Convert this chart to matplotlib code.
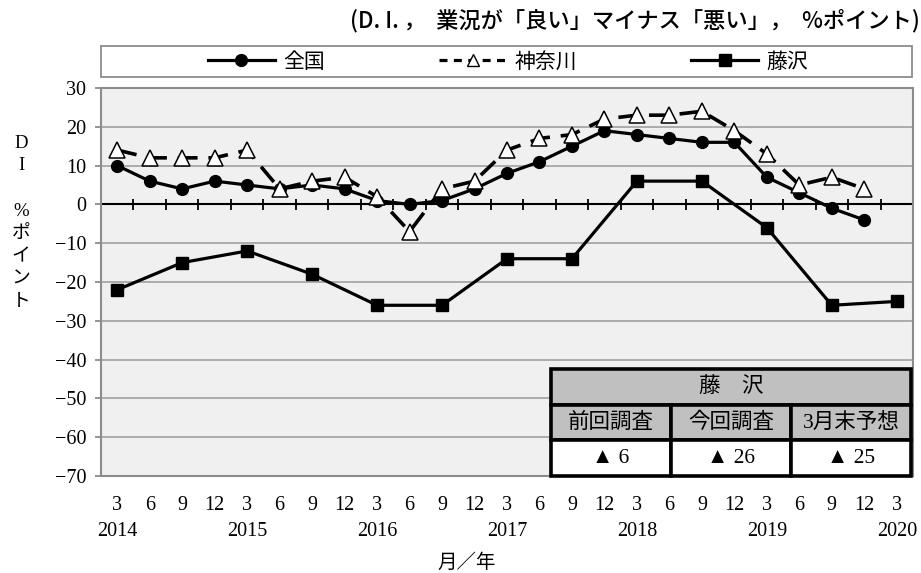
import matplotlib
matplotlib.use("Agg")
import matplotlib.pyplot as plt
import numpy as np
from matplotlib.lines import Line2D
from matplotlib.patches import Rectangle

# digits in a serif face, Japanese falls back to Noto CJK
SERIF_JP = ["Liberation Serif", "Noto Sans CJK JP"]
JP = ["Noto Sans CJK JP", "DejaVu Sans"]
plt.rcParams["font.family"] = SERIF_JP

months = [3, 6, 9, 12] * 6 + [3]
years = [2014, 2015, 2016, 2017, 2018, 2019, 2020]

# quarterly D.I., 2014/3 .. 2019/12
zenkoku = [10, 6, 4, 6, 5, 4, 5, 4, 1, 0, 1, 4, 8, 11, 15, 19, 18, 17, 16, 16, 7, 3, -1, -4]
kanagawa = [14, 12, 12, 12, 14, 4, 6, 7, 2, -7, 4, 6, 14, 17, 18, 22, 23, 23, 24, 19, 13, 5, 7, 4]
# half-yearly, 2014/3 .. 2020/3
fujisawa_pos = list(range(0, 25, 2))
fujisawa = [-22, -15, -12, -18, -26, -26, -14, -14, 6, 6, -6, -26, -25]

series_names = ["全国", "神奈川", "藤沢"]
table_header = "藤　沢"
table_cols = ["前回調査", "今回調査", "3月末予想"]
table_vals = [f"▲ {abs(v)}" for v in fujisawa[-3:]]

W, H = 921, 573
fig = plt.figure(figsize=(W / 100, H / 100), dpi=100)
ax = fig.add_axes([101 / W, 1 - 476 / H, 812 / W, 388 / H])

ax.set_facecolor("#f0f0f0")
ax.set_xlim(-0.5, len(months) - 0.5)
ax.set_ylim(-70, 30)
ax.set_yticks(range(-70, 31, 10))
ax.grid(axis="y", color="#a6a6a6", lw=1.3)
ax.set_axisbelow(True)
for s in ax.spines.values():
  s.set_color("#8c8c8c")
  s.set_linewidth(1.5)
ax.tick_params(axis="y", length=4.5, width=1.3, color="#8c8c8c", labelsize=14.5, pad=6)

labels = []
for i, m in enumerate(months):
  if i % 4 == 0:
    labels.append(f"{m}\n{years[i // 4]}")
  else:
    labels.append(f"{m}")
ax.set_xticks(range(len(months)))
ax.set_xticklabels(labels, linespacing=1.5)
ax.tick_params(axis="x", length=0, labelsize=14.5, pad=14.5)

# zero line with category tick marks crossing it
ax.axhline(0, color="black", lw=1.5, zorder=2)
ax.vlines(np.arange(-0.5, len(months), 1), -1.4, 1.4, color="black", lw=1.3, zorder=2)

x = np.arange(len(zenkoku))
ax.plot(x, zenkoku, color="black", lw=2.3, marker="o", ms=8.5, zorder=3)
ax.plot(x, kanagawa, color="black", lw=2.6, ls=(0, (5.5, 3)), marker="^", ms=12,
        mfc="white", mec="black", mew=1.1, zorder=4)
ax.plot(fujisawa_pos, fujisawa, color="black", lw=2.3, marker="s", ms=8.5, zorder=5)

# legend in a full-width box above the plot
fig.add_artist(Rectangle((101 / W, 1 - 77 / H), 811 / W, 31 / H, transform=fig.transFigure,
                         fill=False, ec="#8c8c8c", lw=1.3))
handles = [Line2D([], [], color="black", lw=2.3, marker="o", ms=8.5),
           Line2D([], [], color="black", lw=2.3, ls=(0, (2.5, 2)), marker="^", ms=8,
                  mfc="white", mec="black", mew=1),
           Line2D([], [], color="black", lw=2.3, marker="s", ms=8.5)]
fig.legend(handles, series_names, loc="center", bbox_to_anchor=(508 / W, 1 - 61.5 / H),
           ncol=3, frameon=False, prop={"family": JP, "size": 15},
           handlelength=3.2, handletextpad=0.4, columnspacing=5.5)

fig.text(920 / W, 1 - 21 / H, "(D. I. ，  業況が「良い」マイナス「悪い」，  %ポイント)",
         ha="right", va="center", family=JP, size=16, weight="medium")

# vertical y label, one character per line
ylab = ["D", "I", "", "%", "ポ", "イ", "ン", "ト"]
for k, ch in enumerate(ylab):
  fig.text(21 / W, 1 - (143 + k * 22.7) / H, ch, ha="center", va="center", family=SERIF_JP, size=13.5)

fig.text(467 / W, 1 - 562 / H, "月／年", ha="center", va="center", family=JP, size=14)

# summary table in the lower right corner
tx0 = (551 - 101) / 812
tw = (911 - 551) / 812
rh = 35.7 / 388
t1 = ax.table(cellText=[[table_header]], cellColours=[["#c0c0c0"]], cellLoc="center",
              bbox=[tx0, 2 * rh, tw, rh])
t2 = ax.table(cellText=[table_cols, table_vals],
              cellColours=[["#c0c0c0"] * 3, ["white"] * 3], cellLoc="center",
              bbox=[tx0, 0, tw, 2 * rh])
for t in (t1, t2):
  t.auto_set_font_size(False)
  t.set_zorder(10)
  for cell in t.get_celld().values():
    cell.set_linewidth(2.6)
    cell.set_edgecolor("black")
    cell.get_text().set_fontfamily(SERIF_JP)
    cell.get_text().set_fontsize(15.5)

fig.savefig("out.png", dpi=100)
